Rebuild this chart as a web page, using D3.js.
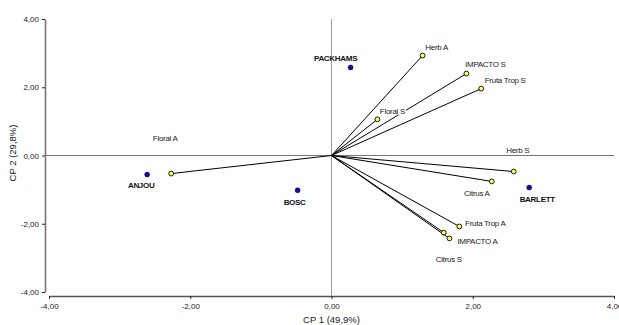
<!DOCTYPE html>
<html>
<head>
<meta charset="utf-8">
<script src="https://cdn.jsdelivr.net/npm/d3@7"></script>
<style>
  body { margin: 0; background: #fff; }
  svg { display: block; font-family: "Liberation Sans", Arial, sans-serif; }
</style>
</head>
<body>
<svg id="chart" width="619" height="325"></svg>
<script>
// muestras (puntos azules)
const sampleNames = ['ANJOU', 'PACKHAMS', 'BOSC', 'BARLETT'];
const sampleX = [-2.61, 0.27, -0.48, 2.80];
const sampleY = [-0.56, 2.58, -1.02, -0.94];

// atributos (vectores)
const attrNames = ['Floral A', 'Herb A', 'IMPACTO S', 'Fruta Trop S', 'Floral S',
  'Herb S', 'Citrus A', 'Fruta Trop A', 'IMPACTO A', 'Citrus S'];
const attrX = [-2.27, 1.29, 1.91, 2.12, 0.65, 2.58, 2.27, 1.81, 1.67, 1.59];
const attrY = [-0.53, 2.93, 2.40, 1.96, 1.06, -0.47, -0.76, -2.08, -2.43, -2.26];

// ticks
const tickValues = [-4, -2, 0, 2, 4];
const xTitle = 'CP 1 (49,9%)';
const yTitle = 'CP 2 (29,8%)';

// desplazamiento de etiquetas (px)
const sampleNudge = [[-6, 11], [-15, -9], [-3, 12], [8, 12]];
const attrNudge = [[-6, -35], [14, -8], [19, -9], [24, -8], [15, -8],
  [4, -21], [-15, 12], [26, -3], [28, 3], [5, 27]];

const svg = d3.select('#chart');
const x = d3.scaleLinear().domain([-4, 4]).range([49, 614]);
const y = d3.scaleLinear().domain([-4, 4]).range([292, 19]);
const fmt = d => d3.format('.2f')(d).replace('.', ',').replace('−', '-');

/* ejes */
const gx = svg.append('g').attr('transform', 'translate(0,296)')
  .call(d3.axisBottom(x).tickValues(tickValues).tickFormat(fmt).tickSize(3).tickSizeOuter(0));
gx.select('.domain').attr('stroke', '#555').attr('stroke-width', 1.6);
gx.selectAll('.tick line').attr('stroke', '#222');
gx.selectAll('.tick text').attr('font-size', 8).attr('fill', '#222').attr('dy', '0.9em');

const gy = svg.append('g').attr('transform', 'translate(45,0)')
  .call(d3.axisLeft(y).tickValues(tickValues).tickFormat(fmt).tickSize(3).tickSizeOuter(0));
gy.select('.domain').attr('stroke', '#777').attr('stroke-width', 1.6);
gy.selectAll('.tick line').attr('stroke', '#222');
gy.selectAll('.tick text').attr('font-size', 8).attr('fill', '#222');

/* lineas de referencia */
svg.append('line').attr('x1', 45).attr('x2', x(4)).attr('y1', y(0)).attr('y2', y(0))
  .attr('stroke', '#777').attr('stroke-width', 1);
svg.append('line').attr('x1', x(0)).attr('x2', x(0)).attr('y1', y(4)).attr('y2', 296)
  .attr('stroke', '#999').attr('stroke-width', 1);

/* vectores */
svg.append('g').selectAll('line').data(attrNames).enter().append('line')
  .attr('x1', x(0)).attr('y1', y(0))
  .attr('x2', (d, i) => x(attrX[i])).attr('y2', (d, i) => y(attrY[i]))
  .attr('stroke', '#000').attr('stroke-width', 1);

/* etiquetas atributos con fondo blanco */
const gLab = svg.append('g');
attrNames.forEach((name, i) => {
  const t = gLab.append('text')
    .attr('x', x(attrX[i]) + attrNudge[i][0]).attr('y', y(attrY[i]) + attrNudge[i][1])
    .attr('text-anchor', 'middle').attr('dominant-baseline', 'central')
    .attr('font-size', 8).attr('letter-spacing', -0.3).attr('fill', '#222').text(name);
  const b = t.node().getBBox();
  gLab.insert('rect', 'text').attr('x', b.x - 1).attr('y', b.y + 1)
    .attr('width', b.width + 2).attr('height', b.height - 2).attr('fill', '#fff');
});

svg.append('g').selectAll('circle').data(attrNames).enter().append('circle')
  .attr('cx', (d, i) => x(attrX[i])).attr('cy', (d, i) => y(attrY[i]))
  .attr('r', 2.4).attr('fill', '#ffff66').attr('stroke', '#000').attr('stroke-width', 0.9);

/* muestras */
svg.append('g').selectAll('circle').data(sampleNames).enter().append('circle')
  .attr('cx', (d, i) => x(sampleX[i])).attr('cy', (d, i) => y(sampleY[i]))
  .attr('r', 2.5).attr('fill', '#10109a').attr('stroke', '#000033').attr('stroke-width', 0.5);

svg.append('g').selectAll('text').data(sampleNames).enter().append('text')
  .attr('x', (d, i) => x(sampleX[i]) + sampleNudge[i][0])
  .attr('y', (d, i) => y(sampleY[i]) + sampleNudge[i][1])
  .attr('text-anchor', 'middle').attr('dominant-baseline', 'central')
  .attr('font-size', 8).attr('font-weight', 'bold').attr('letter-spacing', -0.3)
  .attr('fill', '#111').text(d => d);

/* titulos */
svg.append('text').attr('x', x(0)).attr('y', 319).attr('text-anchor', 'middle')
  .attr('dominant-baseline', 'central').attr('font-size', 9.5).attr('fill', '#222').text(xTitle);
svg.append('text').attr('transform', 'translate(12,153) rotate(-90)').attr('text-anchor', 'middle')
  .attr('dominant-baseline', 'central').attr('font-size', 9.5).attr('fill', '#222').text(yTitle);
</script>
</body>
</html>
